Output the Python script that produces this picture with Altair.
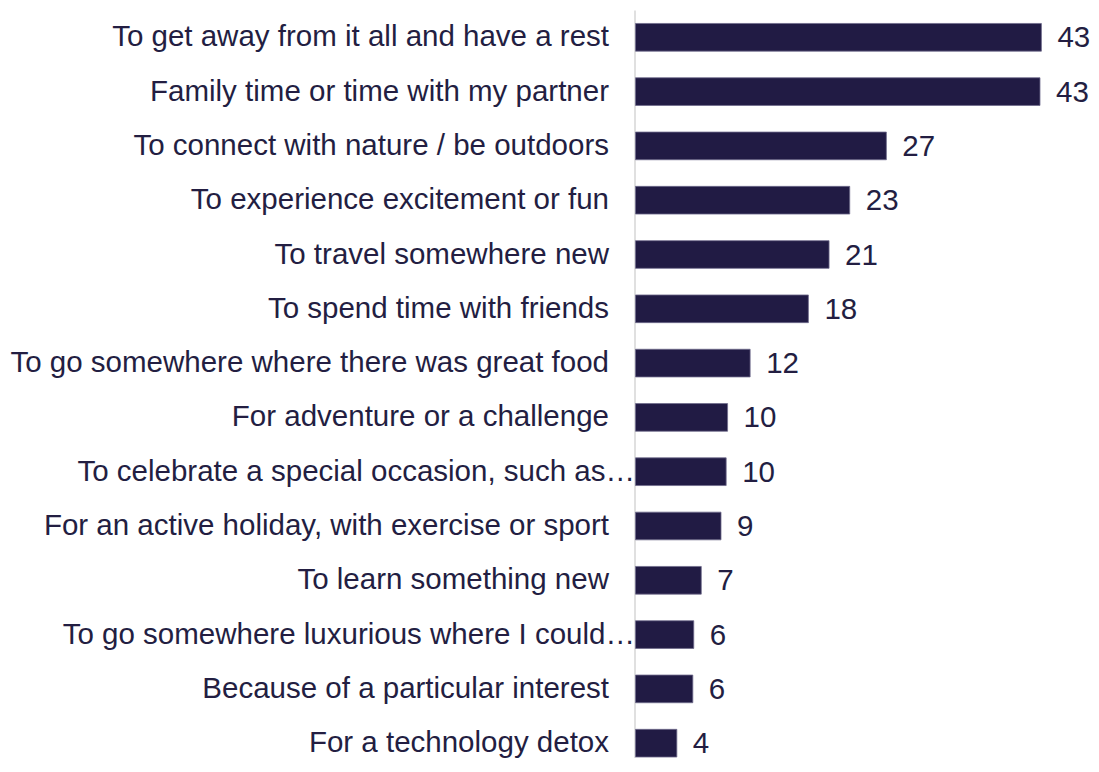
import altair as alt
import pandas as pd

categories = [
    "To get away from it all and have a rest",
    "Family time or time with my partner",
    "To connect with nature / be outdoors",
    "To experience excitement or fun",
    "To travel somewhere new",
    "To spend time with friends",
    "To go somewhere where there was great food",
    "For adventure or a challenge",
    "To celebrate a special occasion, such as…",
    "For an active holiday, with exercise or sport",
    "To learn something new",
    "To go somewhere luxurious where I could…",
    "Because of a particular interest",
    "For a technology detox",
]
values = [43.2, 43.05, 26.7, 22.8, 20.6, 18.4, 12.2, 9.8, 9.65, 9.1, 7.0, 6.2, 6.1, 4.4]
value_labels = [43, 43, 27, 23, 21, 18, 12, 10, 10, 9, 7, 6, 6, 4]

df = pd.DataFrame({"category": categories, "value": values, "label": [str(v) for v in value_labels]})

BAR = "#211B44"
TEXT = "#231E42"
FONT = "Liberation Sans"

y_enc = alt.Y(
    "category:N",
    sort=categories,
    title=None,
    scale=alt.Scale(paddingInner=0.49, paddingOuter=0.248, range=[0, 760.5]),
    axis=alt.Axis(
        domain=True,
        domainColor="#D6D6D6",
        domainWidth=1.5,
        offset=1,
        ticks=False,
        grid=False,
        labelFont=FONT,
        labelFontSize=29.5,
        labelColor=TEXT,
        labelLimit=0,
        labelPadding={"condition": {"test": "indexof(datum.label, '…') >= 0", "value": 0}, "value": 26},
    ),
)
x_enc = alt.X("value:Q", scale=alt.Scale(domain=[0, 48], nice=False, zero=True), axis=None, title=None)

bars = alt.Chart(df).mark_bar(color=BAR, stroke="#6F6B8C", strokeWidth=0.8).encode(y=y_enc, x=x_enc)
texts = alt.Chart(df).mark_text(
    align="left", baseline="middle", dx=16, dy=1, font=FONT, fontSize=29.5, color=TEXT
).encode(y=alt.Y("category:N", sort=categories), x="value:Q", text="label:N")

chart = (
    alt.layer(bars, texts)
    .properties(
        width=451,
        height=748,
        autosize=alt.AutoSizeParams(type="none"),
        padding={"left": 627.5, "top": 2, "right": 4, "bottom": 0},
    )
    .configure(background="white")
    .configure_view(strokeWidth=0, stroke=None)
)

chart.save("out.html", embed_options={"renderer": "svg", "actions": False})
